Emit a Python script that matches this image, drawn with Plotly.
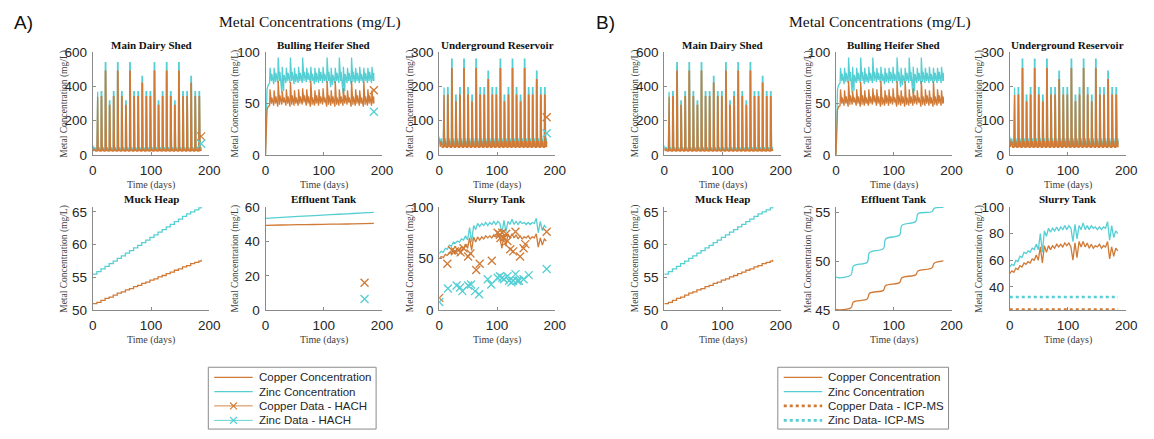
import plotly.graph_objects as go

W, H = 1154, 439
CU = "#D07A36"
ZN = "#55CFD3"
AXC = "#8a8a8a"
TXT = "#262626"
SANS = "Liberation Sans, Arial, sans-serif"
SERIF = "Liberation Serif, Times New Roman, serif"

# ---------------- data ----------------
spike_days = [7, 14, 21, 28, 35, 42, 49, 56, 63, 70, 77, 84, 91, 98, 105, 112, 119,
              126, 133, 140, 147, 154, 161, 168, 175, 182]
end_day = 186

# Main Dairy Shed (peak values of each weekly washdown spike)
mds_cu_peak = [340, 340, 490, 290, 340, 490, 340, 290, 490, 340, 340, 420, 340, 340,
               490, 290, 340, 490, 340, 290, 490, 340, 340, 420, 340, 340]
mds_zn_peak = [370, 370, 540, 315, 370, 540, 370, 315, 540, 370, 370, 460, 370, 370,
               540, 315, 370, 540, 370, 315, 540, 370, 370, 460, 370, 370]
mds_start_days = [0, 1.5, 3.5, 5]
mds_cu_start = [40, 22, 34, 22]
mds_zn_start = [55, 32, 44, 32]
mds_cu_base, mds_cu_hump = 22, 34
mds_zn_base, mds_zn_hump = 32, 44

# Underground Reservoir
ur_cu_peak = [175, 175, 252, 155, 175, 252, 175, 155, 252, 175, 175, 220, 175, 175,
              252, 155, 175, 252, 175, 155, 252, 175, 175, 220, 175, 175]
ur_zn_peak = [197, 197, 280, 175, 197, 280, 197, 175, 280, 197, 197, 245, 197, 197,
              280, 175, 197, 280, 197, 175, 280, 197, 197, 245, 197, 197]
ur_start_days = [0, 1.5, 3.5, 5]
ur_cu_start = [47, 23, 40, 22]
ur_zn_start = [53, 30, 48, 30]
ur_cu_base, ur_cu_hump = 22, 40
ur_zn_base, ur_zn_hump = 30, 48

# Bulling Heifer Shed
bhs_start_days = [0, 1, 2.5, 4.5]
bhs_cu_start = [0, 25, 44, 47]
bhs_zn_start = [0, 40, 64, 68]
bhs_cu_peak = [64, 63, 72, 62, 64, 71, 63, 64, 65, 64, 72, 63, 64, 65, 72, 63, 72,
               64, 65, 63, 72, 64, 63, 72, 64, 63]
bhs_cu_sec = [56, 57, 58, 56, 57, 58, 56, 57, 58, 57, 56, 58, 57, 56, 58, 57, 56,
              57, 58, 56, 57, 58, 56, 57, 58, 57]
bhs_cu_trough = [48, 48, 47, 49, 48, 47, 48, 48, 49, 48, 47, 48, 48, 49, 47, 48, 47,
                 48, 48, 49, 47, 48, 48, 47, 48, 48]
bhs_zn_peak = [85, 85, 95, 86, 85, 95, 85, 86, 95, 85, 86, 85, 85, 86, 95, 85, 85,
               95, 86, 85, 95, 85, 86, 85, 85, 86]
bhs_zn_sec = [79, 80, 81, 78, 80, 81, 79, 80, 81, 80, 79, 80, 81, 79, 81, 78, 80,
              81, 79, 80, 81, 80, 79, 80, 81, 80]
bhs_zn_trough = [70, 69, 70, 60, 70, 70, 69, 70, 70, 71, 70, 69, 70, 70, 70, 66, 70,
                 70, 60, 70, 69, 70, 70, 70, 70, 70]

# Muck Heap (weekly values)
muck_days = [0, 7, 14, 21, 28, 35, 42, 49, 56, 63, 70, 77, 84, 91, 98, 105, 112, 119,
             126, 133, 140, 147, 154, 161, 168, 175, 182, 186]
muck_cu = [51.0, 51.2, 51.5, 51.8, 52.0, 52.3, 52.6, 52.8, 53.1, 53.3, 53.6, 53.8,
           54.1, 54.3, 54.6, 54.8, 55.1, 55.3, 55.6, 55.8, 56.1, 56.3, 56.6, 56.8,
           57.1, 57.3, 57.5, 57.7]
muck_zn = [55.5, 55.9, 56.3, 56.7, 57.1, 57.5, 57.9, 58.3, 58.7, 59.1, 59.5, 59.9,
           60.3, 60.7, 61.1, 61.5, 61.9, 62.3, 62.7, 63.1, 63.5, 63.9, 64.3, 64.7,
           65.0, 65.3, 65.6, 65.8]

# Effluent Tank - model A
effA_days = [0, 28, 56, 84, 112, 140, 168, 186]
effA_cu = [49.3, 49.5, 49.7, 49.8, 50.0, 50.1, 50.3, 50.4]
effA_zn = [53.3, 53.9, 54.5, 55.0, 55.5, 56.0, 56.5, 56.8]
effA_data_day = [170]
effA_data_cu = [16]
effA_data_zn = [6.5]

# Effluent Tank - model B
effB_days = [0, 5, 26, 30, 54, 58, 82, 86, 110, 114, 138, 142, 166, 170, 186]
effB_cu = [45.05, 45.0, 45.2, 45.8, 46.1, 46.7, 47.0, 47.5, 47.8, 48.3, 48.6, 49.0,
           49.3, 49.8, 50.05]
effB_zn = [48.4, 48.3, 48.6, 49.5, 49.9, 50.9, 51.3, 52.3, 52.7, 53.7, 54.1, 54.9,
           55.1, 55.45, 55.55]

# Slurry Tank model
slurry_days = [0, 3.5, 7, 10.5, 14, 17.5, 21, 24.5, 28, 31.5, 35, 38.5, 42, 45.5, 49,
               52.5, 56, 59.5, 63, 66.5, 70, 73.5, 77, 80.5, 84, 87.5, 91, 94.5, 98,
               101.5, 105, 108.5, 112, 115.5, 119, 122.5, 126, 129.5, 133, 136.5, 140,
               143.5, 147, 150.5, 154, 157.5, 161, 164.5, 168, 171.5, 175, 178.5, 182,
               185.5]
slurry_cu = [50, 52, 51, 54, 53, 56, 55, 58, 57, 59, 58, 61, 60, 64, 60, 70, 58, 71,
             66, 71, 68, 71, 69, 72, 70, 72, 70, 73, 71, 73, 70, 60, 73, 62, 74, 70,
             74, 70, 73, 69, 72, 69, 71, 70, 72, 69, 71, 70, 74, 61, 70, 63, 69, 67]
slurry_zn = [55, 57, 56, 60, 59, 63, 62, 66, 65, 67, 66, 69, 68, 72, 68, 80, 66, 82,
             78, 84, 81, 84, 82, 85, 82, 85, 83, 86, 83, 86, 84, 74, 87, 76, 86, 83,
             88, 83, 86, 83, 86, 84, 85, 83, 85, 83, 85, 84, 89, 75, 86, 77, 82, 80]

# HACH measurements (Slurry Tank)
hach_cu_days = [0, 14, 22, 27, 33, 37, 42, 50, 54, 64, 70, 91, 101, 105, 106, 109, 112,
                116, 118, 123, 128, 132, 140, 146, 149, 186]
hach_cu_vals = [12, 45, 58, 57, 58, 56, 60, 52, 55, 39, 45, 48, 75, 73, 70, 75, 70,
                74, 67, 59, 57, 76, 52, 60, 64, 76]
hach_zn_days = [0, 15, 30, 36, 40, 50, 55, 62, 69, 84, 90, 101, 105, 109, 112, 118,
                121, 125, 128, 132, 135, 138, 146, 155, 186]
hach_zn_vals = [8, 21, 24, 22, 18.5, 24, 25, 18.5, 15.5, 30, 25, 31.5, 33, 31.5, 30,
                33, 28.5, 27, 28.5, 35, 28.5, 28.5, 30, 34, 40]

# HACH single end-of-period measurements
hach_end_day = [186]
mds_data_cu, mds_data_zn = [108], [65]
bhs_data_cu, bhs_data_zn = [63], [42]
ur_data_cu, ur_data_zn = [110], [63]

# ICP-MS measurements (Slurry Tank, model B)
icp_days = [0, 186]
icp_cu = [23, 23]
icp_zn = [32.5, 32.5]

x_ticks = [0, 100, 200]

legendA_labels = ["Copper Concentration", "Zinc Concentration",
                  "Copper Data - HACH", "Zinc Data - HACH"]
legendB_labels = ["Copper Concentration", "Zinc Concentration",
                  "Copper Data - ICP-MS", "Zinc Data- ICP-MS"]


# ---------------- series builders ----------------
def spike_series(start_d, start_v, peaks, base, hump):
    xs, ys = list(start_d), list(start_v)
    for i, d in enumerate(spike_days):
        for dx, v in zip([0, 0.4, 1.3, 2.2, 3.6, 5.0],
                         [base, peaks[i], peaks[i], base, hump, base]):
            if d + dx <= end_day:
                xs.append(d + dx)
                ys.append(v)
    xs.append(end_day)
    ys.append(base)
    return xs, ys


def bhs_series(start_d, start_v, peaks, secs, troughs):
    xs, ys = list(start_d), list(start_v)
    for i, d in enumerate(spike_days):
        for dx, v in zip([0, 0.7, 3.0, 3.7], [troughs[i], peaks[i], troughs[i] + 2, secs[i]]):
            if d + dx <= end_day:
                xs.append(d + dx)
                ys.append(v)
    xs.append(end_day)
    ys.append(troughs[-1] + 2)
    return xs, ys


mds_cu = spike_series(mds_start_days, mds_cu_start, mds_cu_peak, mds_cu_base, mds_cu_hump)
mds_zn = spike_series(mds_start_days, mds_zn_start, mds_zn_peak, mds_zn_base, mds_zn_hump)
ur_cu = spike_series(ur_start_days, ur_cu_start, ur_cu_peak, ur_cu_base, ur_cu_hump)
ur_zn = spike_series(ur_start_days, ur_zn_start, ur_zn_peak, ur_zn_base, ur_zn_hump)
bhs_cu = bhs_series(bhs_start_days, bhs_cu_start, bhs_cu_peak, bhs_cu_sec, bhs_cu_trough)
bhs_zn = bhs_series(bhs_start_days, bhs_zn_start, bhs_zn_peak, bhs_zn_sec, bhs_zn_trough)

# ---------------- panel layout ----------------
colsA = [(90, 208), (265, 383), (441, 558)]
colsB = [(669, 787), (843, 960), (1019, 1137)]
rowT = (47, 153)
rowB = (207, 314)
ylab_xA = [61, 235, 412]
ylab_xB = [640, 815, 988]

panels = [
    ("Main Dairy Shed", colsA[0], rowT, [0, 600], [0, 200, 400, 600], ylab_xA[0]),
    ("Bulling Heifer Shed", colsA[1], rowT, [0, 100], [0, 50, 100], ylab_xA[1]),
    ("Underground Reservoir", colsA[2], rowT, [0, 300], [0, 100, 200, 300], ylab_xA[2]),
    ("Muck Heap", colsA[0], rowB, [50, 65.75], [50, 55, 60, 65], ylab_xA[0]),
    ("Effluent Tank", colsA[1], rowB, [0, 60], [0, 20, 40, 60], ylab_xA[1]),
    ("Slurry Tank", colsA[2], rowB, [0, 100], [0, 50, 100], ylab_xA[2]),
    ("Main Dairy Shed", colsB[0], rowT, [0, 600], [0, 200, 400, 600], ylab_xB[0]),
    ("Bulling Heifer Shed", colsB[1], rowT, [0, 100], [0, 50, 100], ylab_xB[1]),
    ("Underground Reservoir", colsB[2], rowT, [0, 300], [0, 100, 200, 300], ylab_xB[2]),
    ("Muck Heap", colsB[0], rowB, [50, 65.75], [50, 55, 60, 65], ylab_xB[0]),
    ("Effluent Tank", colsB[1], rowB, [44.95, 55.6], [45, 50, 55], ylab_xB[1]),
    ("Slurry Tank", colsB[2], rowB, [22.5, 100], [40, 60, 80, 100], ylab_xB[2]),
]

fig = go.Figure()


def ax_id(n):
    return ("x" if n == 1 else f"x{n}"), ("y" if n == 1 else f"y{n}")


def line(n, xy, color, width=1.3, **kw):
    xa, ya = ax_id(n)
    fig.add_trace(go.Scatter(x=xy[0], y=xy[1], mode="lines", xaxis=xa, yaxis=ya,
                             line=dict(color=color, width=width, **kw),
                             showlegend=False, hoverinfo="skip"))


def marks(n, xs, ys, color):
    xa, ya = ax_id(n)
    fig.add_trace(go.Scatter(x=xs, y=ys, mode="markers", xaxis=xa, yaxis=ya,
                             marker=dict(symbol="x-thin", size=8, color=color,
                                         line=dict(width=1.3, color=color)),
                             showlegend=False, hoverinfo="skip"))


for off in (0, 6):
    line(1 + off, mds_zn, ZN)
    line(1 + off, mds_cu, CU)
    line(2 + off, bhs_zn, ZN)
    line(2 + off, bhs_cu, CU)
    line(3 + off, ur_zn, ZN)
    line(3 + off, ur_cu, CU)
    line(4 + off, (muck_days, muck_zn), ZN, shape="hv")
    line(4 + off, (muck_days, muck_cu), CU, shape="hv")
    line(6 + off, (slurry_days, slurry_zn), ZN)
    line(6 + off, (slurry_days, slurry_cu), CU)

line(5, (effA_days, effA_zn), ZN, shape="spline")
line(5, (effA_days, effA_cu), CU, shape="spline")
line(11, (effB_days, effB_zn), ZN, shape="spline")
line(11, (effB_days, effB_cu), CU, shape="spline")

# HACH data markers (model A)
marks(1, hach_end_day, mds_data_cu, CU)
marks(1, hach_end_day, mds_data_zn, ZN)
marks(2, hach_end_day, bhs_data_cu, CU)
marks(2, hach_end_day, bhs_data_zn, ZN)
marks(3, hach_end_day, ur_data_cu, CU)
marks(3, hach_end_day, ur_data_zn, ZN)
marks(5, effA_data_day, effA_data_cu, CU)
marks(5, effA_data_day, effA_data_zn, ZN)
marks(6, hach_cu_days, hach_cu_vals, CU)
marks(6, hach_zn_days, hach_zn_vals, ZN)

# ICP-MS lines (model B)
line(12, (icp_days, icp_zn), ZN, width=2.6, dash="dot")
line(12, (icp_days, icp_cu), CU, width=2.6, dash="dot")

# ---------------- axes & texts ----------------
layout = {}
ann = []


def text(t, x, y, size, family=SERIF, color="#111111", angle=0, xanchor="center"):
    ann.append(dict(text=t, x=x / W, y=1 - y / H, xref="paper", yref="paper",
                    xanchor=xanchor, yanchor="middle", showarrow=False, textangle=angle,
                    font=dict(family=family, size=size, color=color)))


for i, (title, (x0, x1), (y0, y1), yr, yt, ylx) in enumerate(panels, start=1):
    xa, ya = ax_id(i)
    common = dict(showline=True, linecolor=AXC, linewidth=1, ticks="inside", ticklen=3,
                  tickcolor=AXC, showgrid=False, zeroline=False,
                  tickfont=dict(family=SANS, size=13.5, color=TXT), fixedrange=True)
    layout["xaxis" if i == 1 else f"xaxis{i}"] = dict(
        domain=[x0 / W, x1 / W], range=[0, 200], tickvals=x_ticks, anchor=ya,
        ticklabelstandoff=3, **common)
    layout["yaxis" if i == 1 else f"yaxis{i}"] = dict(
        domain=[1 - y1 / H, 1 - y0 / H], range=yr, tickvals=yt, anchor=xa,
        ticklabelstandoff=2, **common)
    cx = (x0 + x1) / 2
    text(f"<b>{title}</b>", cx, y0 - 8, 11)
    text("Time (days)", cx, y1 + 31, 10, color="#404040")
    text("Metal Concentration (mg/L)", ylx, (y0 + y1) / 2, 9.5, color="#404040", angle=-90)

text("A)", 8, 16, 19, family=SANS, xanchor="left")
text("B)", 598, 16, 19, family=SANS, xanchor="left")
text("Metal Concentrations (mg/L)", 310, 16, 15.5)
text("Metal Concentrations (mg/L)", 888, 16, 15.5)

# ---------------- hand-drawn legends (MATLAB-style compact rows) ----------------
shapes = []


def seg(x0, y0, x1, y1, color, width=1.3, dash=None):
    ln = dict(color=color, width=width)
    if dash:
        ln["dash"] = dash
    shapes.append(dict(type="line", xref="paper", yref="paper", x0=x0 / W, x1=x1 / W,
                       y0=1 - y0 / H, y1=1 - y1 / H, line=ln))


def legend_box(bx0, bx1, labels, styles):
    by0, by1 = 373, 437
    shapes.append(dict(type="rect", xref="paper", yref="paper", x0=bx0 / W, x1=bx1 / W,
                       y0=1 - by1 / H, y1=1 - by0 / H, fillcolor="white",
                       line=dict(color="#8a8a8a", width=1), layer="above"))
    rows = [383.5, 398.3, 413.0, 428.0]
    lx0, lx1 = bx0 + 6, bx0 + 45
    for lab, (color, style), ry in zip(labels, styles, rows):
        if style == "line":
            seg(lx0, ry, lx1, ry, color)
        elif style == "marker":
            seg(lx0, ry, lx1, ry, color, width=0.9)
            cxm = (lx0 + lx1) / 2
            seg(cxm - 3.5, ry - 3.5, cxm + 3.5, ry + 3.5, color, width=1.1)
            seg(cxm - 3.5, ry + 3.5, cxm + 3.5, ry - 3.5, color, width=1.1)
        else:
            seg(lx0, ry, lx1, ry, color, width=2.6, dash="dot")
        text(lab, lx1 + 4, ry, 11.5, family=SANS, color=TXT, xanchor="left")


legend_box(207, 377, legendA_labels,
           [(CU, "line"), (ZN, "line"), (CU, "marker"), (ZN, "marker")])
legend_box(784, 957, legendB_labels,
           [(CU, "line"), (ZN, "line"), (CU, "dot"), (ZN, "dot")])

fig.update_layout(
    width=W, height=H, margin=dict(l=0, r=0, t=0, b=0),
    paper_bgcolor="white", plot_bgcolor="white",
    showlegend=False, annotations=ann, shapes=shapes,
    **layout,
)

fig.write_html("out.html", config={"displayModeBar": False},
               post_script="document.body.style.margin='0px';")
